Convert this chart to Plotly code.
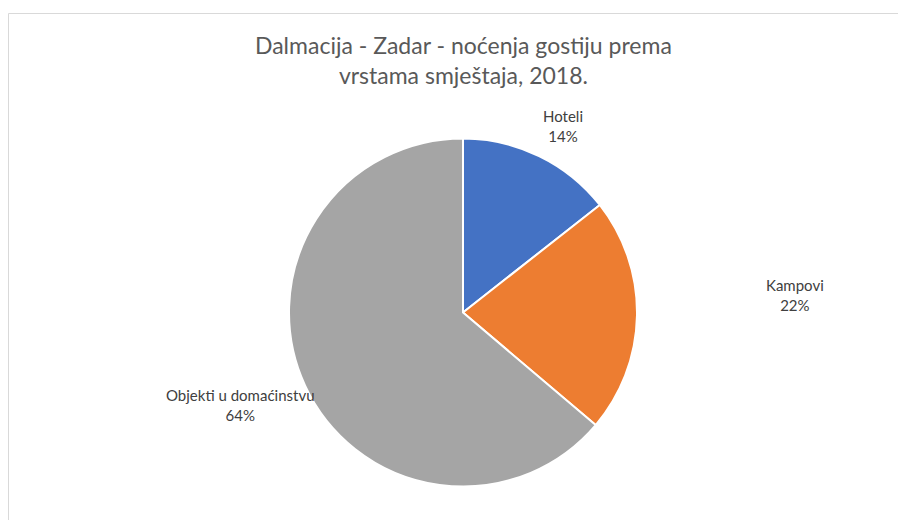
import plotly.graph_objects as go

OFF = 8  # page body margin offset
W, H = 906 - OFF, 528 - 2 * OFF

categories = ["Hoteli", "Kampovi", "Objekti u domaćinstvu"]
values = [14.4, 21.8, 63.8]
colors = ["#4472C4", "#ED7D31", "#A5A5A5"]
title_text = "Dalmacija - Zadar - noćenja gostiju prema<br>vrstama smještaja, 2018."

# label positions in screen pixels (Excel-style manual placement)
label_pos = [(563, 126), (795, 295), (240, 405)]

cx, cy, r = 463 - OFF, 312.5 - OFF, 174

fig = go.Figure()
fig.add_trace(go.Pie(
    labels=categories,
    values=values,
    sort=False,
    direction="clockwise",
    rotation=0,
    marker=dict(colors=colors, line=dict(color="white", width=2)),
    textinfo="none",
    textposition="none",
    hoverinfo="label+percent",
    showlegend=False,
    domain=dict(x=[(cx - r) / W, (cx + r) / W], y=[1 - (cy + r) / H, 1 - (cy - r) / H]),
))

total = sum(values)
annotations = []
for cat, v, (px, py) in zip(categories, values, label_pos):
    annotations.append(dict(
        text=f"{cat}<br>{round(v / total * 100)}%",
        x=(px - OFF) / W, y=1 - (py - OFF) / H, xref="paper", yref="paper",
        xanchor="center", yanchor="middle", showarrow=False,
        font=dict(family="Lato, Carlito, sans-serif", size=15, color="#404040"),
    ))

annotations.append(dict(
    text=title_text,
    x=(463 - OFF) / W, y=1 - (60 - OFF) / H, xref="paper", yref="paper",
    xanchor="center", yanchor="middle", showarrow=False,
    font=dict(family="Lato, Carlito, sans-serif", size=23, color="#595959"),
))

ytop = 1 - 5.5 / H
xl = 0.5 / W
fig.update_layout(
    width=W, height=H,
    margin=dict(l=0, r=0, t=0, b=0),
    paper_bgcolor="white",
    plot_bgcolor="white",
    annotations=annotations,
    shapes=[
        dict(type="line", xref="paper", yref="paper", x0=xl, x1=1.0, y0=ytop, y1=ytop,
             line=dict(color="#D9D9D9", width=1)),
        dict(type="line", xref="paper", yref="paper", x0=xl, x1=xl, y0=0, y1=ytop,
             line=dict(color="#D9D9D9", width=1)),
    ],
)

fig.write_html("out.html")
